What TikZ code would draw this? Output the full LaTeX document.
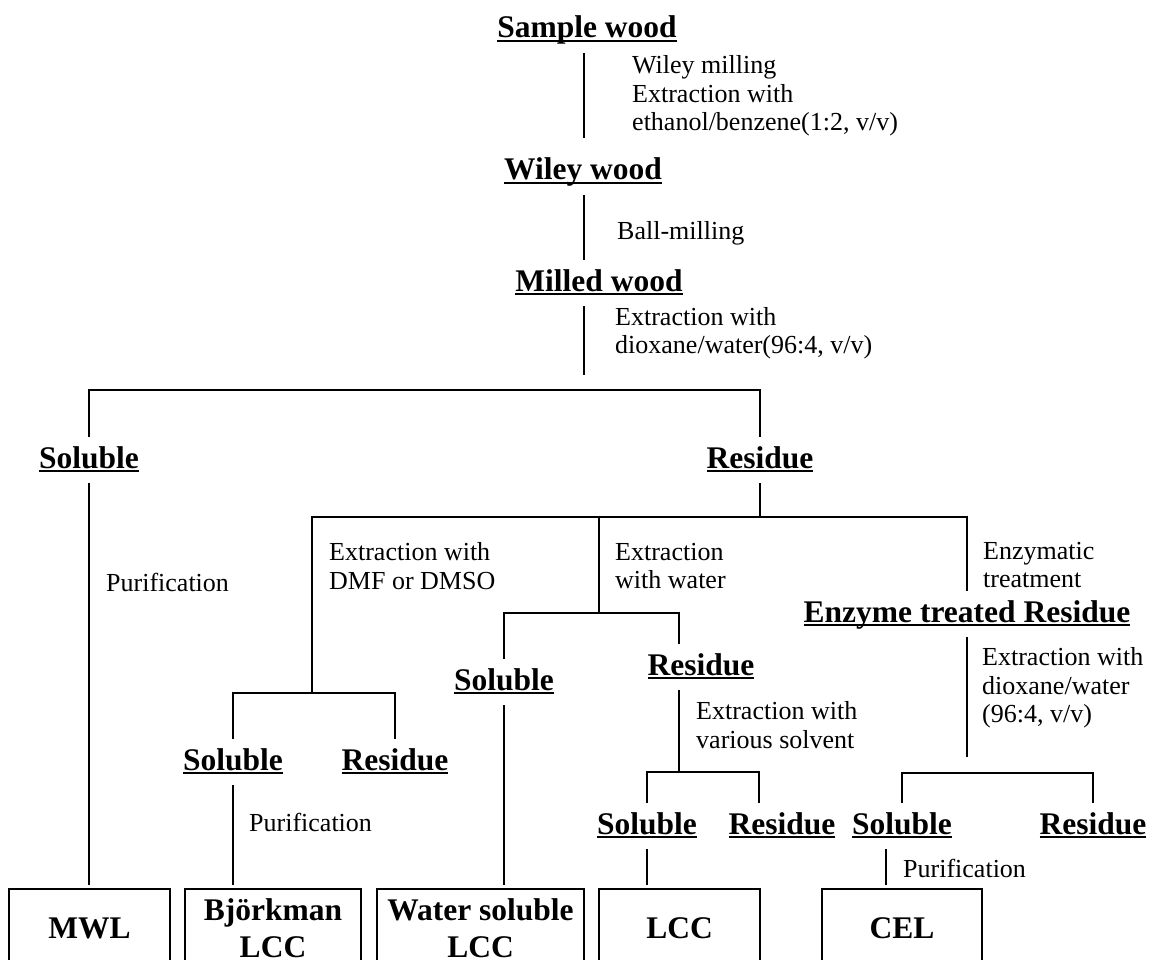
\documentclass[tikz,border=0pt]{standalone}
\usepackage{fontspec}
\setmainfont{Liberation Serif}
\usetikzlibrary{calc}

% underlined bold heading
\newcommand{\ulword}[1]{\setbox0\hbox{#1}\rlap{\rule[-4pt]{\wd0}{2pt}}\box0}

\tikzset{
  stage/.style={font=\fontsize{31.5}{37}\selectfont\bfseries, inner sep=0pt,
    text height=21pt, text depth=5pt, outer xsep=0pt, outer ysep=10pt, anchor=base},
  product/.style={draw, line width=2.5pt, font=\fontsize{31.5}{37}\selectfont\bfseries,
    align=center, inner sep=0pt, minimum height=78pt, outer xsep=0pt, outer ysep=4pt, anchor=north},
  note/.style={font=\fontsize{26}{28.5}\selectfont, align=left, anchor=west, inner sep=0pt},
  link/.style={line width=2pt}
}

\begin{document}
\begin{tikzpicture}[x=1pt, y=-1pt]
    \useasboundingbox (0,0) rectangle (1157,960);

    % Main trunk
    \coordinate (trunk) at (584,375);
    \node[stage] (sample) at (587,38) {\ulword{Sample wood}};
    \node[stage] (wiley) at (583,180) {\ulword{Wiley wood}};
    \node[stage] (milled) at (599,291) {\ulword{Milled wood}};
    \draw[link] (sample.south -| trunk) -- ($(wiley.north -| trunk)+(0,-11)$);
    \draw[link] (wiley.south -| trunk) -- (milled.north -| trunk);
    \draw[link] (milled.south -| trunk) -- (trunk);

    \node[note] (millnote) at (632,96) {Wiley milling\\Extraction with\\ethanol/benzene(1:2, v/v)};
    \node[note] (ballnote) at (617,233) {Ball-milling};
    \node[note] (dioxnote) at (615,333) {Extraction with\\dioxane/water(96:4, v/v)};

    % First split
    \coordinate (fork1) at (584,390);
    \node[stage] (sol1) at (89,468) {\ulword{Soluble}};
    \node[stage] (res1) at (760,468) {\ulword{Residue}};
    \draw[link] (sol1.north) |- (fork1) -| (res1.north);
    \node[note] (pur1) at (106,582) {Purification};

    % Residue split
    \coordinate (fork2) at (760,517);
    \coordinate (dmf) at (312,693);
    \coordinate (wat) at (599,613);
    \node[stage] (enz) at (967,622) {\ulword{Enzyme treated Residue}};
    \draw[link] (res1.south) -- (fork2);
    \draw[link] (dmf) |- (fork2) -| (enz.north);
    \draw[link] (wat) -- (wat |- fork2);

    \node[note] (dmfnote) at (329,566) {Extraction with\\DMF or DMSO};
    \node[note] (watnote) at (615,566) {Extraction\\with water};
    \node[note] (enznote) at (983,565) {Enzymatic\\treatment};

    % DMF branch
    \node[stage] (sol2) at (233,770) {\ulword{Soluble}};
    \node[stage] (res2) at (395,770) {\ulword{Residue}};
    \draw[link] (sol2.north) |- (dmf) -| (res2.north);
    \node[note] (pur2) at (249,822) {Purification};

    % Water branch
    \node[stage] (sol3) at (504,690) {\ulword{Soluble}};
    \node[stage] (res3) at (701,675) {\ulword{Residue}};
    \draw[link] (sol3.north) |- (wat) -| ($(res3.north)+(-22,0)$);
    \coordinate (solv) at (679,772);
    \draw[link] ($(res3.south)+(-22,0)$) -- (solv);
    \node[note] (solvnote) at (696,725) {Extraction with\\various solvent};
    \node[stage] (sol4) at (647,834) {\ulword{Soluble}};
    \node[stage] (res4) at (782,834) {\ulword{Residue}};
    \draw[link] (sol4.north) |- (solv) -| ($(res4.north)+(-23,0)$);

    % Enzyme branch
    \coordinate (enzend) at (967,757);
    \draw[link] (enz.south) -- (enzend);
    \node[note] (enznote2) at (982,688) {Extraction with\\dioxane/water\\(96:4, v/v)};
    \coordinate (fork3) at (967,773);
    \node[stage] (sol5) at (902,834) {\ulword{Soluble}};
    \node[stage] (res5) at (1093,834) {\ulword{Residue}};
    \draw[link] (sol5.north) |- (fork3) -| (res5.north);
    \node[note] (pur3) at (903,868) {Purification};

    % Products
    \foreach \name/\x/\w/\txt in {mwl/89.5/161/MWL, bjork/273/176/{Björkman\\LCC},
        wsol/480.5/207/{Water soluble\\LCC}, lcc/679.5/161/LCC, cel/902/160/CEL}
        {
        \node[product, minimum width=\w pt] (\name) at (\x,885) {\txt};
    }

    \draw[link] (sol1.south) -- (sol1.south |- mwl.north);
    \draw[link] (sol2.south) -- (sol2.south |- bjork.north);
    \draw[link] (sol3.south) -- (sol3.south |- wsol.north);
    \draw[link] (sol4.south) -- (sol4.south |- lcc.north);
    \coordinate (celtop) at ($(sol5.south)+(-16,0)$);
    \draw[link] (celtop) -- (celtop |- cel.north);
\end{tikzpicture}
\end{document}
